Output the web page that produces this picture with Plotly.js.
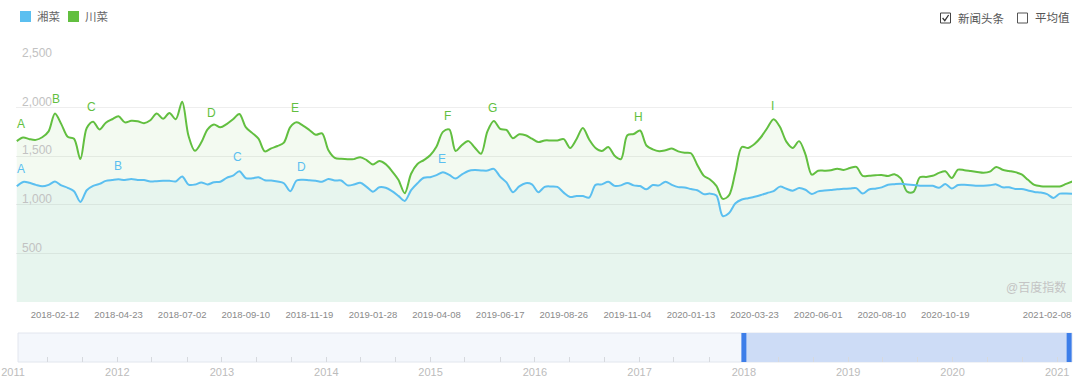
<!DOCTYPE html>
<html>
<head>
<meta charset="utf-8">
<script src="https://cdn.plot.ly/plotly-3.0.1.min.js"></script>
<style>html,body{margin:0;padding:0;background:#fff;}#chart{width:1080px;height:384px;}</style>
</head>
<body>
<div id="chart"></div>
<script>
// ---------- data ----------
const seriesNames = ['湘菜', '川菜'];
const weekStart = '2018-01-01';   // first weekly sample
// 川菜 (green), weekly values
const chuanValues = [
1655,1692,1675,1668,1695,1755,1940,1830,1700,1679,
1470,1790,1855,1775,1845,1880,1910,1848,1865,1860,
1840,1870,1940,1885,1945,1880,2060,1710,1555,1640,
1775,1825,1797,1831,1880,1935,1800,1740,1680,1550,
1580,1605,1640,1800,1848,1815,1770,1720,1735,1560,
1482,1473,1468,1470,1490,1460,1415,1450,1418,1345,
1257,1120,1320,1420,1460,1510,1600,1750,1775,1554,
1615,1655,1590,1525,1755,1862,1781,1770,1685,1725,
1715,1680,1645,1662,1662,1662,1675,1585,1675,1790,
1672,1585,1554,1595,1505,1470,1715,1728,1764,1610,
1570,1552,1561,1578,1550,1536,1530,1410,1300,1260,
1195,1061,1100,1340,1595,1585,1625,1695,1790,1880,
1800,1650,1585,1655,1520,1310,1350,1351,1355,1372,
1358,1378,1390,1298,1300,1304,1307,1297,1315,1272,
1135,1133,1284,1287,1298,1328,1345,1275,1362,1356,
1347,1338,1330,1341,1390,1360,1348,1336,1312,1257,
1205,1192,1189,1189,1189,1215,1240
];
// 湘菜 (blue), weekly values
const xiangValues = [
1190,1235,1226,1205,1190,1205,1240,1200,1175,1140,
1030,1150,1195,1215,1246,1255,1262,1255,1265,1255,
1255,1240,1243,1247,1248,1240,1292,1208,1208,1230,
1210,1232,1237,1277,1300,1345,1275,1272,1284,1253,
1250,1240,1222,1140,1250,1258,1252,1248,1238,1265,
1250,1250,1200,1208,1226,1185,1135,1180,1175,1140,
1092,1040,1150,1222,1278,1284,1305,1335,1308,1270,
1313,1348,1357,1354,1352,1370,1290,1230,1130,1190,
1222,1210,1130,1185,1189,1184,1125,1080,1090,1090,
1075,1205,1210,1236,1195,1200,1225,1200,1193,1160,
1203,1200,1238,1205,1182,1178,1162,1150,1110,1115,
1096,885,915,1015,1054,1068,1082,1100,1122,1140,
1187,1165,1145,1172,1155,1112,1138,1146,1153,1160,
1164,1168,1172,1115,1158,1166,1179,1206,1212,1216,
1210,1203,1196,1196,1196,1175,1213,1168,1203,1205,
1202,1196,1196,1200,1210,1180,1180,1162,1162,1148,
1132,1126,1110,1071,1115,1115,1113
];
// x tick labels of the main axis
const xTickLabels = ['2018-02-12','2018-04-23','2018-07-02','2018-09-10','2018-11-19','2019-01-28',
  '2019-04-08','2019-06-17','2019-08-26','2019-11-04','2020-01-13','2020-03-23','2020-06-01',
  '2020-08-10','2020-10-19','2021-02-08'];
const yTickValues = [500, 1000, 1500, 2000, 2500];
// news-headline markers
const chuanEventLetters = ['A','B','C','D','E','F','G','H','I'];
const chuanEventDates = ['2018-01-06','2018-02-13','2018-03-24','2018-08-03','2018-11-03','2019-04-20','2019-06-09','2019-11-16','2020-04-12'];
const chuanEventValues = [1831,2088,2006,1944,1996,1914,1996,1903,2016];
const xiangEventLetters = ['A','B','C','D','E'];
const xiangEventDates = ['2018-01-06','2018-04-22','2018-09-01','2018-11-10','2019-04-14'];
const xiangEventValues = [1368,1399,1492,1389,1471];
// range selector
const sliderStart = '2011-01-01';
const sliderEnd = '2021-02-22';
const selectedStart = '2018-01-01';
const selectedEnd = '2021-02-12';
const controlLabels = ['新闻头条', '平均值'];
const watermark = '@百度指数';

// ---------- build ----------
function weeklyDates(start, n) {
  const out = []; const d0 = new Date(start + 'T00:00:00Z');
  for (let i = 0; i < n; i++) {
    const d = new Date(d0.getTime() + i * 7 * 86400000);
    out.push(d.toISOString().slice(0, 10));
  }
  return out;
}
const dates = weeklyDates(weekStart, chuanValues.length);

const FONT = 'Liberation Sans, Arial, Noto Sans CJK SC, sans-serif';
const GREEN = '#62bf40';
const BLUE = '#5bbff0';
const W = 1080, H = 384;
const px = v => v / W;
const py = v => 1 - v / H;

const traces = [
  { type: 'scatter', mode: 'lines', name: seriesNames[1], x: dates, y: chuanValues,
    line: { color: GREEN, width: 2, shape: 'spline', smoothing: 0.9 },
    fill: 'tozeroy', fillcolor: 'rgba(98,191,64,0.075)', hoverinfo: 'skip' },
  { type: 'scatter', mode: 'lines', name: seriesNames[0], x: dates, y: xiangValues,
    line: { color: BLUE, width: 2, shape: 'spline', smoothing: 0.9 },
    fill: 'tozeroy', fillcolor: 'rgba(90,190,200,0.075)', hoverinfo: 'skip' }
];

const annotations = [];
chuanEventLetters.forEach((t, i) => annotations.push({
  xref: 'x', yref: 'y', x: chuanEventDates[i], y: chuanEventValues[i], text: t, showarrow: false,
  font: { family: FONT, size: 12, color: GREEN }, xanchor: 'center', yanchor: 'middle', borderpad: 0
}));
xiangEventLetters.forEach((t, i) => annotations.push({
  xref: 'x', yref: 'y', x: xiangEventDates[i], y: xiangEventValues[i], text: t, showarrow: false,
  font: { family: FONT, size: 12, color: BLUE }, xanchor: 'center', yanchor: 'middle', borderpad: 0
}));
// legend texts
[[seriesNames[0], 35], [seriesNames[1], 83]].forEach(([t, x]) => annotations.push({
  xref: 'paper', yref: 'paper', x: px(x), y: py(16.5), text: t, showarrow: false,
  xanchor: 'left', yanchor: 'middle', font: { family: FONT, size: 11.5, color: '#666' }
}));
// controls
[[controlLabels[0], 956], [controlLabels[1], 1033]].forEach(([t, x]) => annotations.push({
  xref: 'paper', yref: 'paper', x: px(x), y: py(18), text: t, showarrow: false,
  xanchor: 'left', yanchor: 'middle', font: { family: FONT, size: 11.5, color: '#555' }
}));
annotations.push({
  xref: 'paper', yref: 'paper', x: px(1068), y: py(287), text: watermark, showarrow: false,
  xanchor: 'right', yanchor: 'middle', font: { family: FONT, size: 12, color: '#c4c4c4' }
});

const shapes = [
  // legend squares
  { type: 'rect', xref: 'paper', yref: 'paper', x0: px(20), x1: px(31), y0: py(22), y1: py(11),
    fillcolor: BLUE, line: { width: 0 } },
  { type: 'rect', xref: 'paper', yref: 'paper', x0: px(68), x1: px(79), y0: py(22), y1: py(11),
    fillcolor: GREEN, line: { width: 0 } },
  // checkboxes
  { type: 'rect', xref: 'paper', yref: 'paper', x0: px(940.5), x1: px(950.5), y0: py(23), y1: py(13),
    fillcolor: '#fff', line: { width: 1, color: '#444' } },
  { type: 'path', xref: 'paper', yref: 'paper',
    path: `M ${px(942.6)} ${py(18)} L ${px(944.8)} ${py(20.6)} L ${px(948.6)} ${py(15)}`,
    line: { width: 1.3, color: '#333' } },
  { type: 'rect', xref: 'paper', yref: 'paper', x0: px(1017.5), x1: px(1027.5), y0: py(23), y1: py(13),
    fillcolor: '#fff', line: { width: 1, color: '#555' } },
  // range selector box
  { type: 'rect', xref: 'paper', yref: 'paper', x0: px(18), x1: px(1072), y0: py(362), y1: py(333),
    fillcolor: '#f4f7fc', line: { width: 1, color: '#e2e6ee' }, layer: 'below' },
  { type: 'rect', xref: 'x2', yref: 'paper', x0: selectedStart, x1: selectedEnd, y0: py(362), y1: py(333),
    fillcolor: '#cddcf6', line: { width: 0 }, layer: 'below' },
  { type: 'rect', xref: 'x2', yref: 'paper', xsizemode: 'pixel', xanchor: selectedStart, x0: -2.5, x1: 2.5,
    y0: py(362), y1: py(333), fillcolor: '#3d7ee9', line: { width: 0 } },
  { type: 'rect', xref: 'x2', yref: 'paper', xsizemode: 'pixel', xanchor: selectedEnd, x0: -2.5, x1: 2.5,
    y0: py(362), y1: py(333), fillcolor: '#3d7ee9', line: { width: 0 } }
];

const layout = {
  width: W, height: H,
  margin: { l: 0, r: 0, t: 0, b: 0 },
  paper_bgcolor: '#ffffff', plot_bgcolor: 'rgba(0,0,0,0)',
  showlegend: false,
  font: { family: FONT, color: '#888' },
  xaxis: {
    type: 'date', domain: [px(16), px(1072)], anchor: 'y',
    range: ['2017-12-31 03:00', '2021-03-07 10:00'],
    tickmode: 'array', tickvals: xTickLabels, ticktext: xTickLabels,
    showgrid: false, zeroline: false, showline: false, ticks: '',
    tickfont: { family: FONT, size: 9.5, color: '#8a8a8a' }, ticklabelstandoff: 5,
    fixedrange: true
  },
  yaxis: {
    domain: [py(302), py(59)], anchor: 'x', range: [0, 2500],
    tickmode: 'array', tickvals: yTickValues, tickformat: ',d',
    showgrid: true, gridcolor: '#eeeeee', gridwidth: 1, zeroline: false, showline: false, ticks: '',
    ticklabelposition: 'inside', ticklabelshift: -6, ticklabelstandoff: 3, ticklabeloverflow: 'allow',
    tickfont: { family: FONT, size: 12, color: '#c2c2c2' }, fixedrange: true
  },
  xaxis2: {
    type: 'date', domain: [px(13), px(1072)], anchor: 'y2',
    range: [sliderStart, sliderEnd],
    tick0: '2011-01-01', dtick: 'M12', tickformat: '%Y',
    ticks: 'inside', ticklen: 5, tickcolor: '#d6d9de', tickwidth: 1,
    minor: { dtick: 'M4', ticks: 'inside', ticklen: 5, tickcolor: '#d6d9de', showgrid: false },
    showgrid: false, zeroline: false, showline: false,
    tickfont: { family: FONT, size: 11, color: '#bcbcbc' }, ticklabelstandoff: 2,
    ticklabeloverflow: 'allow', fixedrange: true
  },
  yaxis2: { domain: [py(362), py(333)], anchor: 'x2', range: [0, 1], visible: false, fixedrange: true },
  annotations: annotations,
  shapes: shapes
};

Plotly.newPlot('chart', traces, layout, { staticPlot: true, displayModeBar: false });
</script>
</body>
</html>
